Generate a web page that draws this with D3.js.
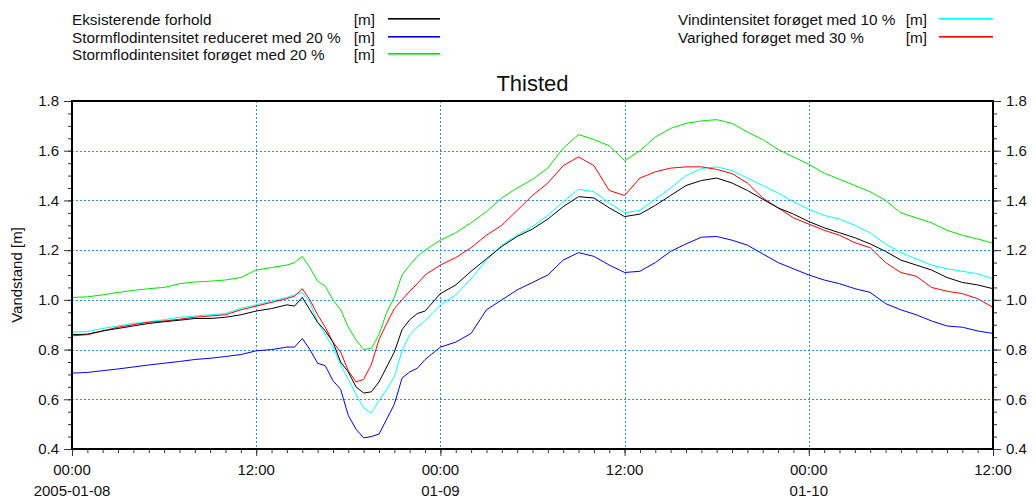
<!DOCTYPE html>
<html>
<head>
<meta charset="utf-8">
<script src="https://cdn.jsdelivr.net/npm/d3@7"></script>
<style>
  html, body { margin: 0; padding: 0; background: #fff; }
  text { font-family: "Liberation Sans", Arial, sans-serif; fill: #111; }
</style>
</head>
<body>
<svg id="chart" width="1036" height="502"></svg>
<script>
// ---- data ----
const hours = [0,1,2,3,4,5,6,7,8,9,10,11,12,13,14,14.5,15,15.5,16,16.5,17,17.5,18,18.5,19,19.5,20,20.5,21,21.5,22,22.5,23,24,25,26,27,28,29,30,31,32,33,34,35,36,37,38,39,40,41,42,43,44,45,46,47,48,49,50,51,52,53,54,55,56,57,58,59,60];

const eksisterende = [0.86,0.862,0.875,0.885,0.895,0.905,0.912,0.918,0.925,0.925,0.93,0.94,0.955,0.965,0.98,0.975,1.01,0.96,0.91,0.875,0.83,0.75,0.71,0.65,0.625,0.63,0.67,0.73,0.79,0.88,0.92,0.945,0.955,1.025,1.06,1.115,1.165,1.215,1.255,1.285,1.325,1.375,1.415,1.41,1.37,1.335,1.345,1.38,1.42,1.46,1.48,1.49,1.47,1.44,1.405,1.37,1.345,1.315,1.29,1.27,1.25,1.225,1.195,1.16,1.14,1.12,1.09,1.07,1.06,1.045];

const reduceret = [0.705,0.708,0.715,0.722,0.73,0.738,0.745,0.752,0.76,0.765,0.772,0.78,0.795,0.8,0.81,0.81,0.845,0.8,0.745,0.735,0.675,0.64,0.535,0.48,0.445,0.45,0.46,0.52,0.58,0.685,0.71,0.725,0.76,0.81,0.83,0.865,0.96,1.0,1.04,1.07,1.1,1.16,1.19,1.175,1.14,1.11,1.115,1.15,1.195,1.225,1.252,1.255,1.24,1.22,1.185,1.15,1.125,1.1,1.08,1.065,1.045,1.03,0.985,0.96,0.94,0.915,0.895,0.89,0.875,0.865];

const foroget20 = [1.01,1.012,1.02,1.03,1.038,1.045,1.05,1.065,1.072,1.075,1.08,1.09,1.12,1.13,1.14,1.15,1.175,1.13,1.075,1.055,1.0,0.96,0.89,0.84,0.8,0.805,0.86,0.95,1.01,1.1,1.14,1.175,1.2,1.24,1.27,1.31,1.355,1.41,1.45,1.485,1.53,1.61,1.665,1.645,1.62,1.56,1.6,1.655,1.69,1.71,1.72,1.725,1.71,1.675,1.645,1.605,1.575,1.545,1.51,1.485,1.46,1.435,1.4,1.35,1.33,1.31,1.28,1.26,1.245,1.228];

const vind10 = [0.87,0.872,0.885,0.895,0.905,0.912,0.92,0.93,0.935,0.94,0.945,0.966,0.98,0.995,1.01,1.02,1.03,0.99,0.91,0.86,0.81,0.74,0.68,0.62,0.565,0.545,0.595,0.64,0.69,0.795,0.86,0.89,0.915,0.98,1.02,1.085,1.16,1.22,1.26,1.295,1.34,1.395,1.445,1.435,1.39,1.35,1.36,1.405,1.45,1.5,1.528,1.535,1.52,1.49,1.46,1.43,1.395,1.365,1.34,1.325,1.3,1.27,1.225,1.19,1.165,1.14,1.125,1.115,1.105,1.085];

const varighed30 = [0.855,0.86,0.875,0.89,0.9,0.91,0.915,0.922,0.93,0.935,0.94,0.96,0.975,0.99,1.005,1.015,1.045,1.0,0.94,0.89,0.83,0.79,0.715,0.67,0.68,0.74,0.84,0.905,0.965,1.0,1.035,1.065,1.1,1.14,1.17,1.21,1.26,1.3,1.36,1.42,1.47,1.54,1.575,1.54,1.44,1.42,1.49,1.515,1.53,1.535,1.535,1.525,1.508,1.47,1.41,1.37,1.33,1.305,1.28,1.26,1.23,1.21,1.15,1.11,1.095,1.05,1.035,1.025,1.005,0.97];

const seriesNames = ["Stormflodintensitet forøget med 20 %","Stormflodintensitet reduceret med 20 %","Vindintensitet forøget med 10 %","Varighed forøget med 30 %","Eksisterende forhold"];
const seriesColors = ["#00e600","#0000ff","#00ffff","#ff0000","#000000"];
const seriesValues = [foroget20, reduceret, vind10, varighed30, eksisterende];

const yTicks = [0.4,0.6,0.8,1.0,1.2,1.4,1.6,1.8];
const xTickTimes = ["00:00","12:00","00:00","12:00","00:00","12:00"];
const xTickDates = ["2005-01-08","","01-09","","01-10",""];
const title = "Thisted";
const yLabel = "Vandstand [m]";

// ---- layout ----
const svg = d3.select("#chart");
const L = 72, R = 993, T = 101, B = 449;
const start = new Date(2005, 0, 8, 0, 0);
const toDate = h => new Date(start.getTime() + h * 3600000);

const x = d3.scaleTime().domain([toDate(0), toDate(60)]).range([L, R]);
const y = d3.scaleLinear().domain([0.4, 1.8]).range([B, T]);

svg.append("rect").attr("width", 1036).attr("height", 502).attr("fill", "#fff");

// grid
const grid = svg.append("g").attr("stroke", "#2a8cf5").attr("stroke-width", 1).attr("stroke-dasharray", "2,2");
[12, 24, 36, 48].forEach(h => {
  grid.append("line").attr("x1", Math.round(x(toDate(h))) + 0.5).attr("x2", Math.round(x(toDate(h))) + 0.5).attr("y1", T).attr("y2", B);
});
yTicks.slice(1, -1).forEach(v => {
  grid.append("line").attr("x1", L).attr("x2", R).attr("y1", Math.round(y(v)) + 0.5).attr("y2", Math.round(y(v)) + 0.5);
});

// series
svg.append("clipPath").attr("id", "clip").append("rect").attr("x", L).attr("y", T).attr("width", R - L).attr("height", B - T);
const line = d3.line().x((d, i) => x(toDate(hours[i]))).y(d => y(d));
const lines = svg.append("g").attr("clip-path", "url(#clip)");
seriesValues.forEach((vals, k) => {
  lines.append("path").datum(vals).attr("d", line).attr("fill", "none")
    .attr("stroke", seriesColors[k]).attr("stroke-width", 1).attr("stroke-linejoin", "round");
});

// axes
const minorY = d3.range(0.4, 1.8001, 0.05);
const yLeftMinor = d3.axisLeft(y).tickValues(minorY).tickSize(4).tickFormat("");
const yLeft = d3.axisLeft(y).tickValues(yTicks).tickSize(8).tickPadding(5).tickFormat(d3.format(".1f"));
const yRightMinor = d3.axisRight(y).tickValues(minorY).tickSize(4).tickFormat("");
const yRight = d3.axisRight(y).tickValues(yTicks).tickSize(8).tickPadding(5).tickFormat(d3.format(".1f"));

function styleAxis(g) {
  g.select(".domain").remove();
  g.selectAll("line").attr("stroke", "#333");
  g.selectAll("text").attr("font-size", 15).attr("fill", "#111").attr("font-family", "Liberation Sans, Arial, sans-serif");
}
svg.append("g").attr("transform", `translate(${L},0)`).call(yLeftMinor).call(styleAxis);
svg.append("g").attr("transform", `translate(${L},0)`).call(yLeft).call(styleAxis);
svg.append("g").attr("transform", `translate(${R},0)`).call(yRightMinor).call(styleAxis);
svg.append("g").attr("transform", `translate(${R},0)`).call(yRight).call(styleAxis);

const xMinor = d3.axisBottom(x).ticks(d3.timeHour.every(1)).tickSize(4).tickFormat("");
const majorTimes = [0, 12, 24, 36, 48, 60].map(toDate);
const xMajor = d3.axisBottom(x).tickValues(majorTimes).tickSize(7).tickFormat("");
svg.append("g").attr("transform", `translate(0,${B})`).call(xMinor).call(styleAxis);
const xg = svg.append("g").attr("transform", `translate(0,${B})`).call(xMajor).call(styleAxis);
majorTimes.forEach((t, i) => {
  xg.append("text").attr("x", x(t)).attr("y", 26).attr("text-anchor", "middle").attr("font-size", 15).text(xTickTimes[i]);
  if (xTickDates[i]) xg.append("text").attr("x", x(t)).attr("y", 47).attr("text-anchor", "middle").attr("font-size", 15).text(xTickDates[i]);
});

// frame
svg.append("rect").attr("x", L).attr("y", T).attr("width", R - L).attr("height", B - T)
  .attr("fill", "none").attr("stroke", "#000").attr("stroke-width", 2);

// title & y label
svg.append("text").attr("x", (L + R) / 2).attr("y", 91).attr("text-anchor", "middle").attr("font-size", 22).text(title);
svg.append("text").attr("transform", `translate(22,${(T + B) / 2}) rotate(-90)`).attr("text-anchor", "middle").attr("font-size", 15).text(yLabel);

// legend
const legendItems = [
  {name: "Eksisterende forhold", color: "#000000", col: 0, row: 0},
  {name: "Stormflodintensitet reduceret med 20 %", color: "#0000ff", col: 0, row: 1},
  {name: "Stormflodintensitet forøget med 20 %", color: "#00e600", col: 0, row: 2},
  {name: "Vindintensitet forøget med 10 %", color: "#00ffff", col: 1, row: 0},
  {name: "Varighed forøget med 30 %", color: "#ff0000", col: 1, row: 1}
];
const cols = [{tx: 72, ux: 375, lx1: 388, lx2: 440}, {tx: 678, ux: 927, lx1: 939, lx2: 993}];
const leg = svg.append("g");
legendItems.forEach(it => {
  const c = cols[it.col];
  const by = 25 + it.row * 17.5;
  leg.append("text").attr("x", c.tx).attr("y", by).attr("font-size", 15.3).text(it.name);
  leg.append("text").attr("x", c.ux).attr("y", by).attr("text-anchor", "end").attr("font-size", 15.3).text("[m]");
  const ly = Math.round(by - 6);
  leg.append("rect").attr("x", c.lx1).attr("y", ly - 1).attr("width", c.lx2 - c.lx1).attr("height", 1.6)
    .attr("fill", it.color);
});
</script>
</body>
</html>
